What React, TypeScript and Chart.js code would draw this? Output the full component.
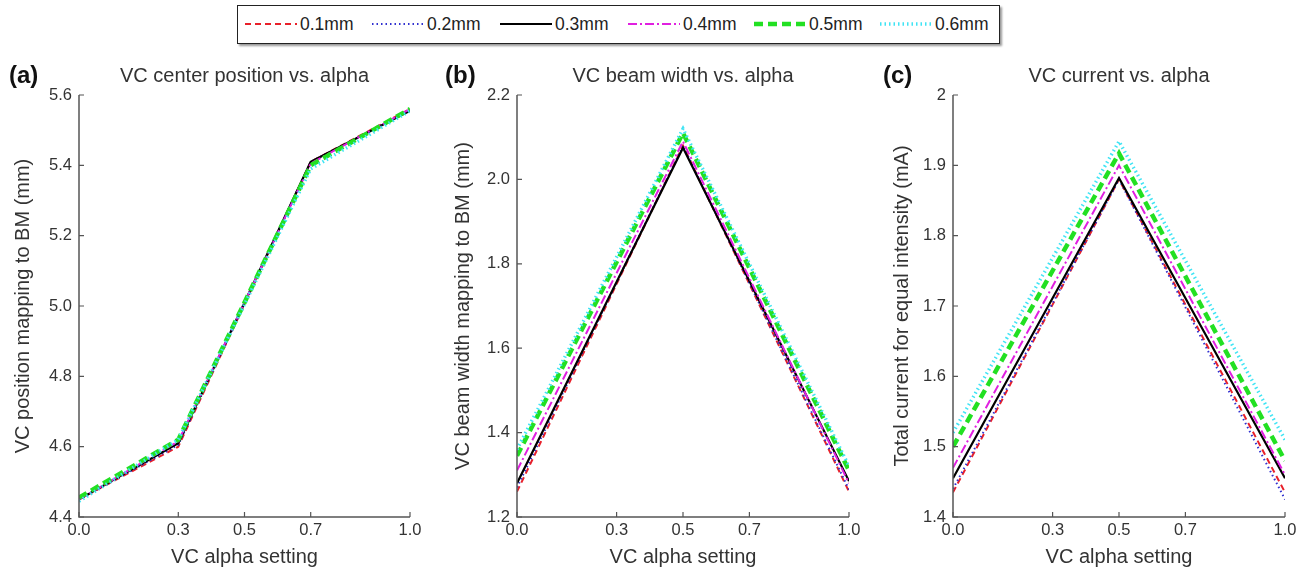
import React, { useEffect, useRef } from "react";
import { Chart, registerables } from "chart.js";

Chart.register(...registerables);

// ---------- data ----------
const seriesLabels = ["0.1mm", "0.2mm", "0.3mm", "0.4mm", "0.5mm", "0.6mm"];
const xTickValues = [0, 0.3, 0.5, 0.7, 1.0];

// panel (a): VC center position vs. alpha
const alphaA = [0, 0.3, 0.7, 1.0];
const posA_01 = [4.45, 4.6, 5.41, 5.56];
const posA_02 = [4.45, 4.605, 5.41, 5.555];
const posA_03 = [4.45, 4.61, 5.41, 5.555];
const posA_04 = [4.45, 4.615, 5.405, 5.56];
const posA_05 = [4.455, 4.62, 5.4, 5.56];
const posA_06 = [4.445, 4.62, 5.39, 5.555];

// panel (b): VC beam width vs. alpha
const alphaBC = [0, 0.5, 1.0];
const widthB_01 = [1.26, 2.08, 1.26];
const widthB_02 = [1.27, 2.08, 1.265];
const widthB_03 = [1.28, 2.075, 1.285];
const widthB_04 = [1.31, 2.09, 1.28];
const widthB_05 = [1.345, 2.11, 1.31];
const widthB_06 = [1.36, 2.12, 1.32];

// panel (c): VC current vs. alpha
const currC_01 = [1.435, 1.88, 1.435];
const currC_02 = [1.44, 1.88, 1.425];
const currC_03 = [1.455, 1.882, 1.455];
const currC_04 = [1.47, 1.9, 1.46];
const currC_05 = [1.5, 1.917, 1.48];
const currC_06 = [1.52, 1.934, 1.51];

// ---------- styles ----------
const FONT = '"Liberation Sans", Arial, sans-serif';
const seriesStyles = [
  { color: "#e8202a", width: 2, dash: [6, 4] },
  { color: "#3030d0", width: 2, dash: [1.5, 3] },
  { color: "#000000", width: 2.2, dash: [] as number[] },
  { color: "#e020e0", width: 2, dash: [9, 3, 2, 3] },
  { color: "#22e022", width: 4.5, dash: [9, 5] },
  { color: "#40e4f4", width: 3.5, dash: [1.5, 3] },
];

const decorPlugin = {
  id: "decor",
  afterDraw(chart: any, _args: any, opts: any) {
    const { ctx, chartArea: ca, scales } = chart;
    ctx.save();
    ctx.strokeStyle = "#555";
    ctx.lineWidth = 1.5;
    ctx.setLineDash([]);
    ctx.beginPath();
    ctx.moveTo(ca.left, ca.top);
    ctx.lineTo(ca.left, ca.bottom);
    ctx.lineTo(ca.right, ca.bottom);
    ctx.stroke();
    ctx.lineWidth = 1.2;
    ctx.beginPath();
    scales.x.ticks.forEach((t: any) => {
      const p = scales.x.getPixelForValue(t.value);
      ctx.moveTo(p, ca.bottom);
      ctx.lineTo(p, ca.bottom - 5);
    });
    scales.y.ticks.forEach((t: any) => {
      const p = scales.y.getPixelForValue(t.value);
      ctx.moveTo(ca.left, p);
      ctx.lineTo(ca.left + 5, p);
    });
    ctx.stroke();
    ctx.fillStyle = "#333";
    ctx.font = `20px ${FONT}`;
    ctx.textAlign = "center";
    ctx.textBaseline = "middle";
    ctx.fillText(opts.title, (ca.left + ca.right) / 2, opts.titleY);
    ctx.fillStyle = "#111";
    ctx.font = `bold 24px ${FONT}`;
    ctx.textAlign = "left";
    ctx.fillText(opts.label, opts.labelX, opts.titleY);
    ctx.restore();
  },
};

type PanelProps = {
  left: number;
  width: number;
  title: string;
  label: string;
  labelX: number;
  yMin: number;
  yMax: number;
  yStep: number;
  yFmt: (v: number) => string;
  yTitle: string;
  yTitlePad: number;
  xs: number[];
  series: number[][];
};

const TOP = 40;
const HEIGHT = 533;

function Panel(p: PanelProps) {
  const ref = useRef<HTMLCanvasElement | null>(null);
  useEffect(() => {
    if (!ref.current) return;
    const datasets = p.series.map((vals, i) => ({
      label: seriesLabels[i],
      data: vals.map((v, j) => ({ x: p.xs[j], y: v })),
      borderColor: seriesStyles[i].color,
      backgroundColor: seriesStyles[i].color,
      borderWidth: seriesStyles[i].width,
      borderDash: seriesStyles[i].dash,
      pointRadius: 0,
      fill: false,
      tension: 0,
      order: 5 - i,
    }));
    const chart = new Chart(ref.current, {
      type: "line",
      data: { datasets },
      plugins: [decorPlugin as any],
      options: {
        animation: false,
        responsive: false,
        devicePixelRatio: 1,
        layout: { padding: { top: 55, right: 20, left: 0, bottom: 0 } },
        plugins: {
          legend: { display: false },
          tooltip: { enabled: false },
          decor: { title: p.title, label: p.label, labelX: p.labelX, titleY: 36 },
        } as any,
        scales: {
          x: {
            type: "linear",
            min: 0,
            max: 1,
            grid: { display: false, drawTicks: false },
            border: { display: false },
            afterBuildTicks: (s: any) => {
              s.ticks = xTickValues.map((v) => ({ value: v }));
            },
            afterFit: (s: any) => {
              s.height = 56;
            },
            ticks: {
              padding: 4,
              color: "#333",
              font: { family: FONT, size: 16.5 },
              maxRotation: 0,
              autoSkip: false,
              callback: (v: any) => Number(v).toFixed(1),
            },
            title: {
              display: true,
              text: "VC alpha setting",
              color: "#333",
              font: { family: FONT, size: 20 },
              padding: { top: 0, bottom: 4 },
            },
          },
          y: {
            type: "linear",
            min: p.yMin,
            max: p.yMax,
            grid: { display: false, drawTicks: false },
            border: { display: false },
            afterFit: (s: any) => {
              s.width = 79;
            },
            ticks: {
              stepSize: p.yStep,
              padding: 7,
              color: "#333",
              font: { family: FONT, size: 16.5 },
              callback: (v: any) => p.yFmt(Number(v)),
            },
            title: {
              display: true,
              text: p.yTitle,
              color: "#333",
              font: { family: FONT, size: 20 },
              padding: { top: p.yTitlePad, bottom: 0 },
            },
          },
        },
      },
    });
    return () => chart.destroy();
  }, []);
  return (
    <canvas
      ref={ref}
      width={p.width}
      height={HEIGHT}
      style={{ position: "absolute", left: p.left, top: TOP, width: p.width, height: HEIGHT }}
    />
  );
}

const fix1 = (v: number) => v.toFixed(1);
const plain = (v: number) => String(Math.round(v * 10) / 10);

const legendPos = [245, 372, 500, 628, 754, 880];

function LegendSample({ i }: { i: number }) {
  const s = seriesStyles[i];
  return (
    <svg width={52} height={12} style={{ display: "block" }}>
      <line
        x1={0}
        y1={6}
        x2={52}
        y2={6}
        stroke={s.color}
        strokeWidth={s.width}
        strokeDasharray={s.dash.length ? s.dash.join(",") : undefined}
      />
    </svg>
  );
}

export default function App() {
  return (
    <div
      style={{
        position: "absolute",
        left: 0,
        top: 0,
        width: 1309,
        height: 573,
        background: "#fff",
        overflow: "hidden",
      }}
    >
      <div
        style={{
          position: "absolute",
          left: 237,
          top: 5,
          width: 761,
          height: 37,
          border: "1px solid #222",
          boxShadow: "2px 2px 2px #999",
          background: "#fff",
        }}
      />
      {seriesLabels.map((lab, i) => (
        <div
          key={lab}
          style={{
            position: "absolute",
            left: legendPos[i],
            top: 13,
            height: 22,
            display: "flex",
            alignItems: "center",
            fontFamily: FONT,
            fontSize: 17.5,
            color: "#222",
          }}
        >
          <LegendSample i={i} />
          <span style={{ marginLeft: 3 }}>{lab}</span>
        </div>
      ))}
      <Panel
        left={0}
        width={430}
        title="VC center position vs. alpha"
        label="(a)"
        labelX={9}
        yMin={4.4}
        yMax={5.6}
        yStep={0.2}
        yFmt={fix1}
        yTitle="VC position mapping to BM (mm)"
        yTitlePad={11}
        xs={alphaA}
        series={[posA_01, posA_02, posA_03, posA_04, posA_05, posA_06]}
      />
      <Panel
        left={438}
        width={431}
        title="VC beam width vs. alpha"
        label="(b)"
        labelX={7}
        yMin={1.2}
        yMax={2.2}
        yStep={0.2}
        yFmt={fix1}
        yTitle="VC beam width mapping to BM (mm)"
        yTitlePad={13}
        xs={alphaBC}
        series={[widthB_01, widthB_02, widthB_03, widthB_04, widthB_05, widthB_06]}
      />
      <Panel
        left={874}
        width={431}
        title="VC current vs. alpha"
        label="(c)"
        labelX={9}
        yMin={1.4}
        yMax={2.0}
        yStep={0.1}
        yFmt={plain}
        yTitle="Total current for equal intensity (mA)"
        yTitlePad={16}
        xs={alphaBC}
        series={[currC_01, currC_02, currC_03, currC_04, currC_05, currC_06]}
      />
    </div>
  );
}
